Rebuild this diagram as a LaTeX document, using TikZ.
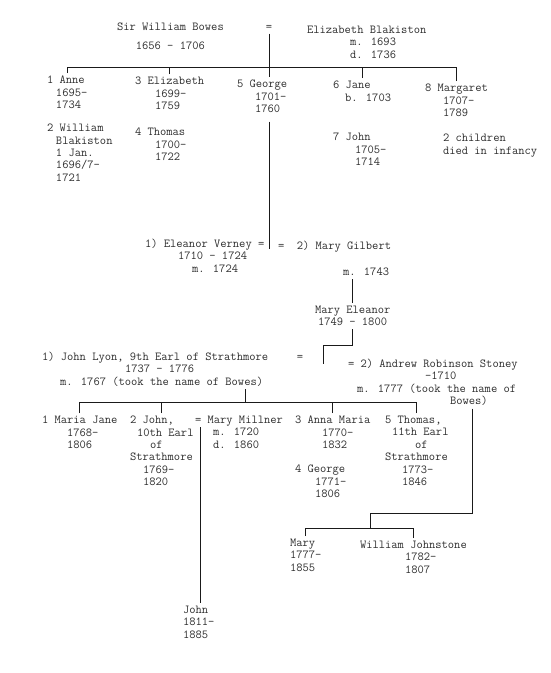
\documentclass[tikz,border=0pt]{standalone}
\usepackage{fontspec}
\usetikzlibrary{positioning}
\definecolor{BwsInk}{HTML}{2E2E2E}
\definecolor{BwsLine}{HTML}{1A1A1A}
\newcommand{\shiftin}[1]{\hspace*{#1pt}}
\tikzset{
  bwsname/.style={
    font=\ttfamily\fontsize{12.2}{12.4}\selectfont,
    text=BwsInk,
    inner sep=0pt,
    outer sep=3pt,
    align=left,
    anchor=north west
  },
  bwswed/.style={bwsname,anchor=center},
  bwsline/.style={draw=BwsLine,line width=.9pt}
}

\begin{document}
\begin{tikzpicture}[x=1pt,y=-1pt]
        \useasboundingbox (0,0) rectangle (550,673);
        % Sir William and his wife
        \node[bwsname,align=center] (wb) at (114,20) {Sir William Bowes\\[6pt]1656 - 1706};
        \node[bwswed] (wbeq) at (269,28) {=};
        \node[bwsname] (eb) at (304,23) {Elizabeth Blakiston\\\shiftin{43}m. 1693\\\shiftin{43}d. 1736};
        % their children
        \node[bwsname] (anne) at (44,73) {1 Anne\\\shiftin{9}1695-\\\shiftin{9}1734};
        \node[bwsname] (will) at (44,121) {2 William\\\shiftin{9}Blakiston\\\shiftin{9}1 Jan.\\\shiftin{9}1696/7-\\\shiftin{9}1721};
        \node[bwsname] (eliz) at (132,74) {3 Elizabeth\\\shiftin{20}1699-\\\shiftin{20}1759};
        \node[bwsname] (thom) at (132,125) {4 Thomas\\\shiftin{20}1700-\\\shiftin{20}1722};
        \node[bwsname] (geo) at (234,77) {5 George\\\shiftin{18}1701-\\\shiftin{18}1760};
        \node[bwsname] (jane) at (330,78) {6 Jane\\\shiftin{12}b. 1703};
        \node[bwsname] (jn7) at (330,130) {7 John\\\shiftin{22}1705-\\\shiftin{22}1714};
        \node[bwsname] (marg) at (422,81) {8 Margaret\\\shiftin{18}1707-\\\shiftin{18}1789};
        \node[bwsname] (infant) at (440,131) {2 children\\died in infancy};
        \coordinate (bar) at (269,67);
        \draw[bwsline] (wbeq.south) -- (wbeq.south |- geo.north);
        \draw[bwsline] (anne.north |- bar) -- (marg.north |- bar);
        \draw[bwsline] (anne.north) -- (anne.north |- bar);
        \draw[bwsline] (eliz.north) -- (eliz.north |- bar);
        \draw[bwsline] (jane.north) -- (jane.north |- bar);
        \draw[bwsline] (marg.north) -- (marg.north |- bar);
        % George's two wives
        \node[bwsname] (verney) at (142,236) {1) Eleanor Verney =\\\shiftin{33}1710 - 1724\\\shiftin{47}m. 1724};
        \node[bwsname] (gilbert) at (275,238) {=~~2) Mary Gilbert\\[14pt]\shiftin{65}m. 1743};
        \node[bwsname] (maryel) at (312,303) {Mary Eleanor\\\shiftin{3}1749 - 1800};
        \coordinate (gwed) at (269,249);
        \draw[bwsline,shorten <=6pt] (gwed |- geo.south) -- (gwed);
        \draw[bwsline] (maryel.north) -- (maryel.north |- gilbert.south);
        \coordinate (mebend) at (323,345);
        \coordinate (mewed) at (323,364);
        \draw[bwsline] (maryel.south) |- (mebend) -- (mewed);
        % Mary Eleanor's husbands
        \node[bwsname] (lyon) at (39,349) {1) John Lyon, 9th Earl of Strathmore\\\shiftin{83}1737 - 1776\\\shiftin{18}m. 1767 (took the name of Bowes)};
        \node[bwswed] (lyeq) at (300,358) {=};
        \node[bwsname] (stoney) at (345,356) {= 2) Andrew Robinson Stoney\\\shiftin{77}-1710\\\shiftin{9}m. 1777 (took the name of\\\shiftin{102}Bowes)};
        % Lyon children
        \node[bwsname] (mj) at (39,413) {1 Maria Jane\\\shiftin{25}1768-\\\shiftin{25}1806};
        \node[bwsname] (jn10) at (127,413) {2 John,\\\shiftin{7}10th Earl\\\shiftin{20}of\\Strathmore\\\shiftin{13}1769-\\\shiftin{13}1820};
        \node[bwsname] (millner) at (192,413) {= Mary Millner\\\shiftin{18}m. 1720\\\shiftin{18}d. 1860};
        \node[bwsname] (anna) at (292,413) {3 Anna Maria\\\shiftin{27}1770-\\\shiftin{27}1832};
        \node[bwsname] (geo4) at (292,462) {4 George\\\shiftin{20}1771-\\\shiftin{20}1806};
        \node[bwsname] (thos) at (382,413) {5 Thomas,\\\shiftin{7}11th Earl\\\shiftin{30}of\\Strathmore\\\shiftin{17}1773-\\\shiftin{17}1846};
        \coordinate (lbar) at (245,402);
        \draw[bwsline] (lbar |- lyon.south) -- (lbar);
        \draw[bwsline] (mj.north |- lbar) -- (thos.north |- lbar);
        \draw[bwsline] (mj.north) -- (mj.north |- lbar);
        \draw[bwsline] (jn10.north) -- (jn10.north |- lbar);
        \draw[bwsline] (anna.north) -- (anna.north |- lbar);
        \draw[bwsline] (thos.north) -- (thos.north |- lbar);
        \node[bwsname] (jn1811) at (180,603) {John\\1811-\\1885};
        \coordinate (jwed) at (200,427);
        \draw[bwsline] (jwed) -- (jwed |- jn1811.north);
        % Stoney children
        \node[bwsname] (mary) at (287,536) {Mary\\1777-\\1855};
        \node[bwsname] (wj) at (357,538) {William Johnstone\\\shiftin{45}1782-\\\shiftin{45}1807};
        \coordinate (sturn) at (472,513);
        \coordinate (sbar) at (370,528);
        \draw[bwsline] (sturn |- stoney.south) -- (sturn) -| (sbar);
        \draw[bwsline] (mary.north |- sbar) -- (wj.north |- sbar);
        \draw[bwsline] (mary.north) -- (mary.north |- sbar);
        \draw[bwsline] (wj.north) -- (wj.north |- sbar);
      \end{tikzpicture}
\end{document}
